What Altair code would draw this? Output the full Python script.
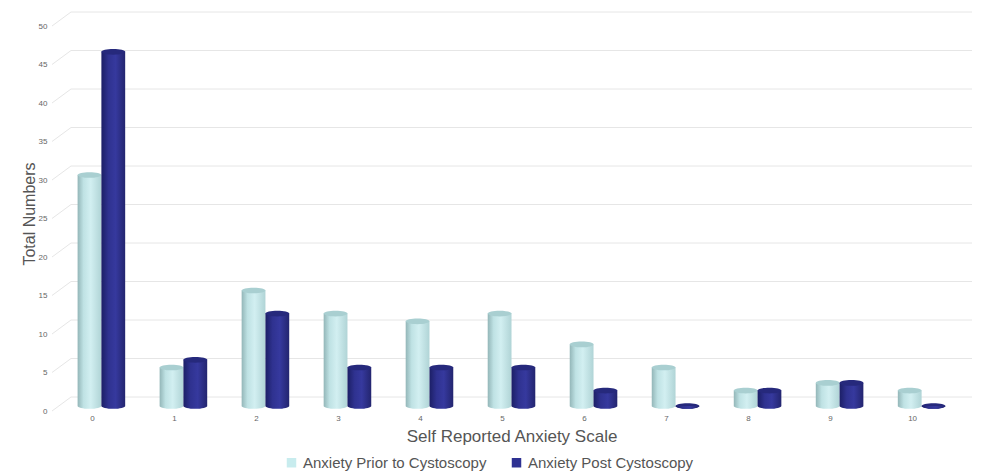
import altair as alt
import pandas as pd

categories = ["0", "1", "2", "3", "4", "5", "6", "7", "8", "9", "10"]
prior = [30, 5, 15, 12, 11, 12, 8, 5, 2, 3, 2]
post = [46, 6, 12, 5, 5, 5, 2, 0, 2, 3, 0]
series_names = ["Anxiety Prior to Cystoscopy", "Anxiety Post Cystoscopy"]
y_ticks = [0, 5, 10, 15, 20, 25, 30, 35, 40, 45, 50]

rows = []
for c, a, b in zip(categories, prior, post):
    rows.append({"scale": c, "series": series_names[0], "value": a})
    rows.append({"scale": c, "series": series_names[1], "value": b})
df = pd.DataFrame(rows)
ticks_df = pd.DataFrame({"tick": y_ticks})

FONT = "Liberation Sans"
W, H = 917, 385

x_enc = alt.X("scale:N", sort=categories,
              scale=alt.Scale(paddingInner=0.42, paddingOuter=0.3),
              axis=alt.Axis(title="Self Reported Anxiety Scale", labelAngle=0,
                            labelFontSize=8, labelColor="#666", ticks=False,
                            domain=False, labelPadding=8, labelOffset=-9,
                            titleFontSize=17,
                            titleColor="#555", titleFontWeight="normal",
                            titlePadding=6, titleFont=FONT, labelFont=FONT))
xo_enc = alt.XOffset("series:N", sort=series_names,
                     scale=alt.Scale(domain=series_names, paddingInner=0, paddingOuter=0))
y_scale = alt.Scale(domain=[0, 50])
y_axis = alt.Axis(title="Total Numbers", values=y_ticks, labelFontSize=8,
                  labelColor="#666", ticks=False, domain=False, grid=False,
                  labelPadding=6, labelOffset=5,
                  titleFontSize=16, titleColor="#555",
                  titleFontWeight="normal", titlePadding=1,
                  titleFont=FONT, labelFont=FONT)
y_enc = alt.Y("value:Q", scale=y_scale, axis=y_axis)

def grad(stops):
    return alt.Gradient(gradient="linear", x1=0, x2=1, y1=0, y2=0,
                        stops=[alt.GradientStop(color=c, offset=o) for o, c in stops])

prior_grad = grad([(0, "#93b6b8"), (0.25, "#bfe2e4"), (0.55, "#d2eff1"), (1, "#b0d4d6")])
post_grad = grad([(0, "#1c1f66"), (0.3, "#2f3290"), (0.6, "#36399e"), (1, "#23256f")])

# back-wall gridlines and their diagonal connectors (3D look)
grid_y = alt.Y("tick:Q", scale=y_scale, axis=y_axis)
grid_back = alt.Chart(ticks_df).mark_rule(color="#e6e6e6", strokeWidth=1, yOffset=-9).encode(
    y=grid_y, x=alt.value(18), x2=alt.value(W + 2))
grid_diag = alt.Chart(ticks_df).mark_rule(color="#e6e6e6", strokeWidth=1,
                                          yOffset=5, y2Offset=-9).encode(
    y=grid_y, y2="tick:Q", x=alt.value(-1), x2=alt.value(18))

base = alt.Chart(df).encode(x=x_enc, xOffset=xo_enc, y=y_enc)

TOP = "M-1,0 A1,0.24 0 1,1 1,0 A1,0.24 0 1,1 -1,0 Z"
BOTTOM = "M-1,0 A1,0.24 0 0,0 1,0 Z"
CAP_SIZE = 570

layers = [grid_back, grid_diag]
for name, g, cap in [(series_names[0], prior_grad, "#a9cfd1"),
                     (series_names[1], post_grad, "#26297c")]:
    sub = base.transform_filter(alt.datum.series == name)
    layers.append(sub.mark_bar(fill=g, opacity=1))
    layers.append(sub.mark_point(shape=TOP, size=CAP_SIZE, filled=True,
                                 fill=cap, opacity=1, strokeWidth=0))
    layers.append(sub.mark_point(shape=BOTTOM, size=CAP_SIZE, filled=True,
                                 fill=g, opacity=1, strokeWidth=0)
                  .encode(y=alt.YDatum(0, type="quantitative", scale=y_scale, axis=y_axis)))

legend_layer = base.mark_square(opacity=0, size=0).encode(
    color=alt.Color("series:N", sort=series_names,
                    scale=alt.Scale(domain=series_names, range=["#c8ecee", "#2e3192"]),
                    legend=alt.Legend(title=None, orient="none", direction="horizontal",
                                      legendX=231, legendY=434,
                                      symbolType="square", symbolOpacity=1, symbolSize=90,
                                      symbolStrokeWidth=0, labelFontSize=15,
                                      labelLimit=0,
                                      labelColor="#555", labelFont=FONT,
                                      columnPadding=22))
)

chart = alt.layer(*layers, legend_layer).properties(
    width=W, height=H,
    padding={"left": 13, "top": 3, "right": 5, "bottom": 5},
).configure(font=FONT).configure_view(stroke=None)

chart.save("out.html", embed_options={"renderer": "svg", "actions": False})
